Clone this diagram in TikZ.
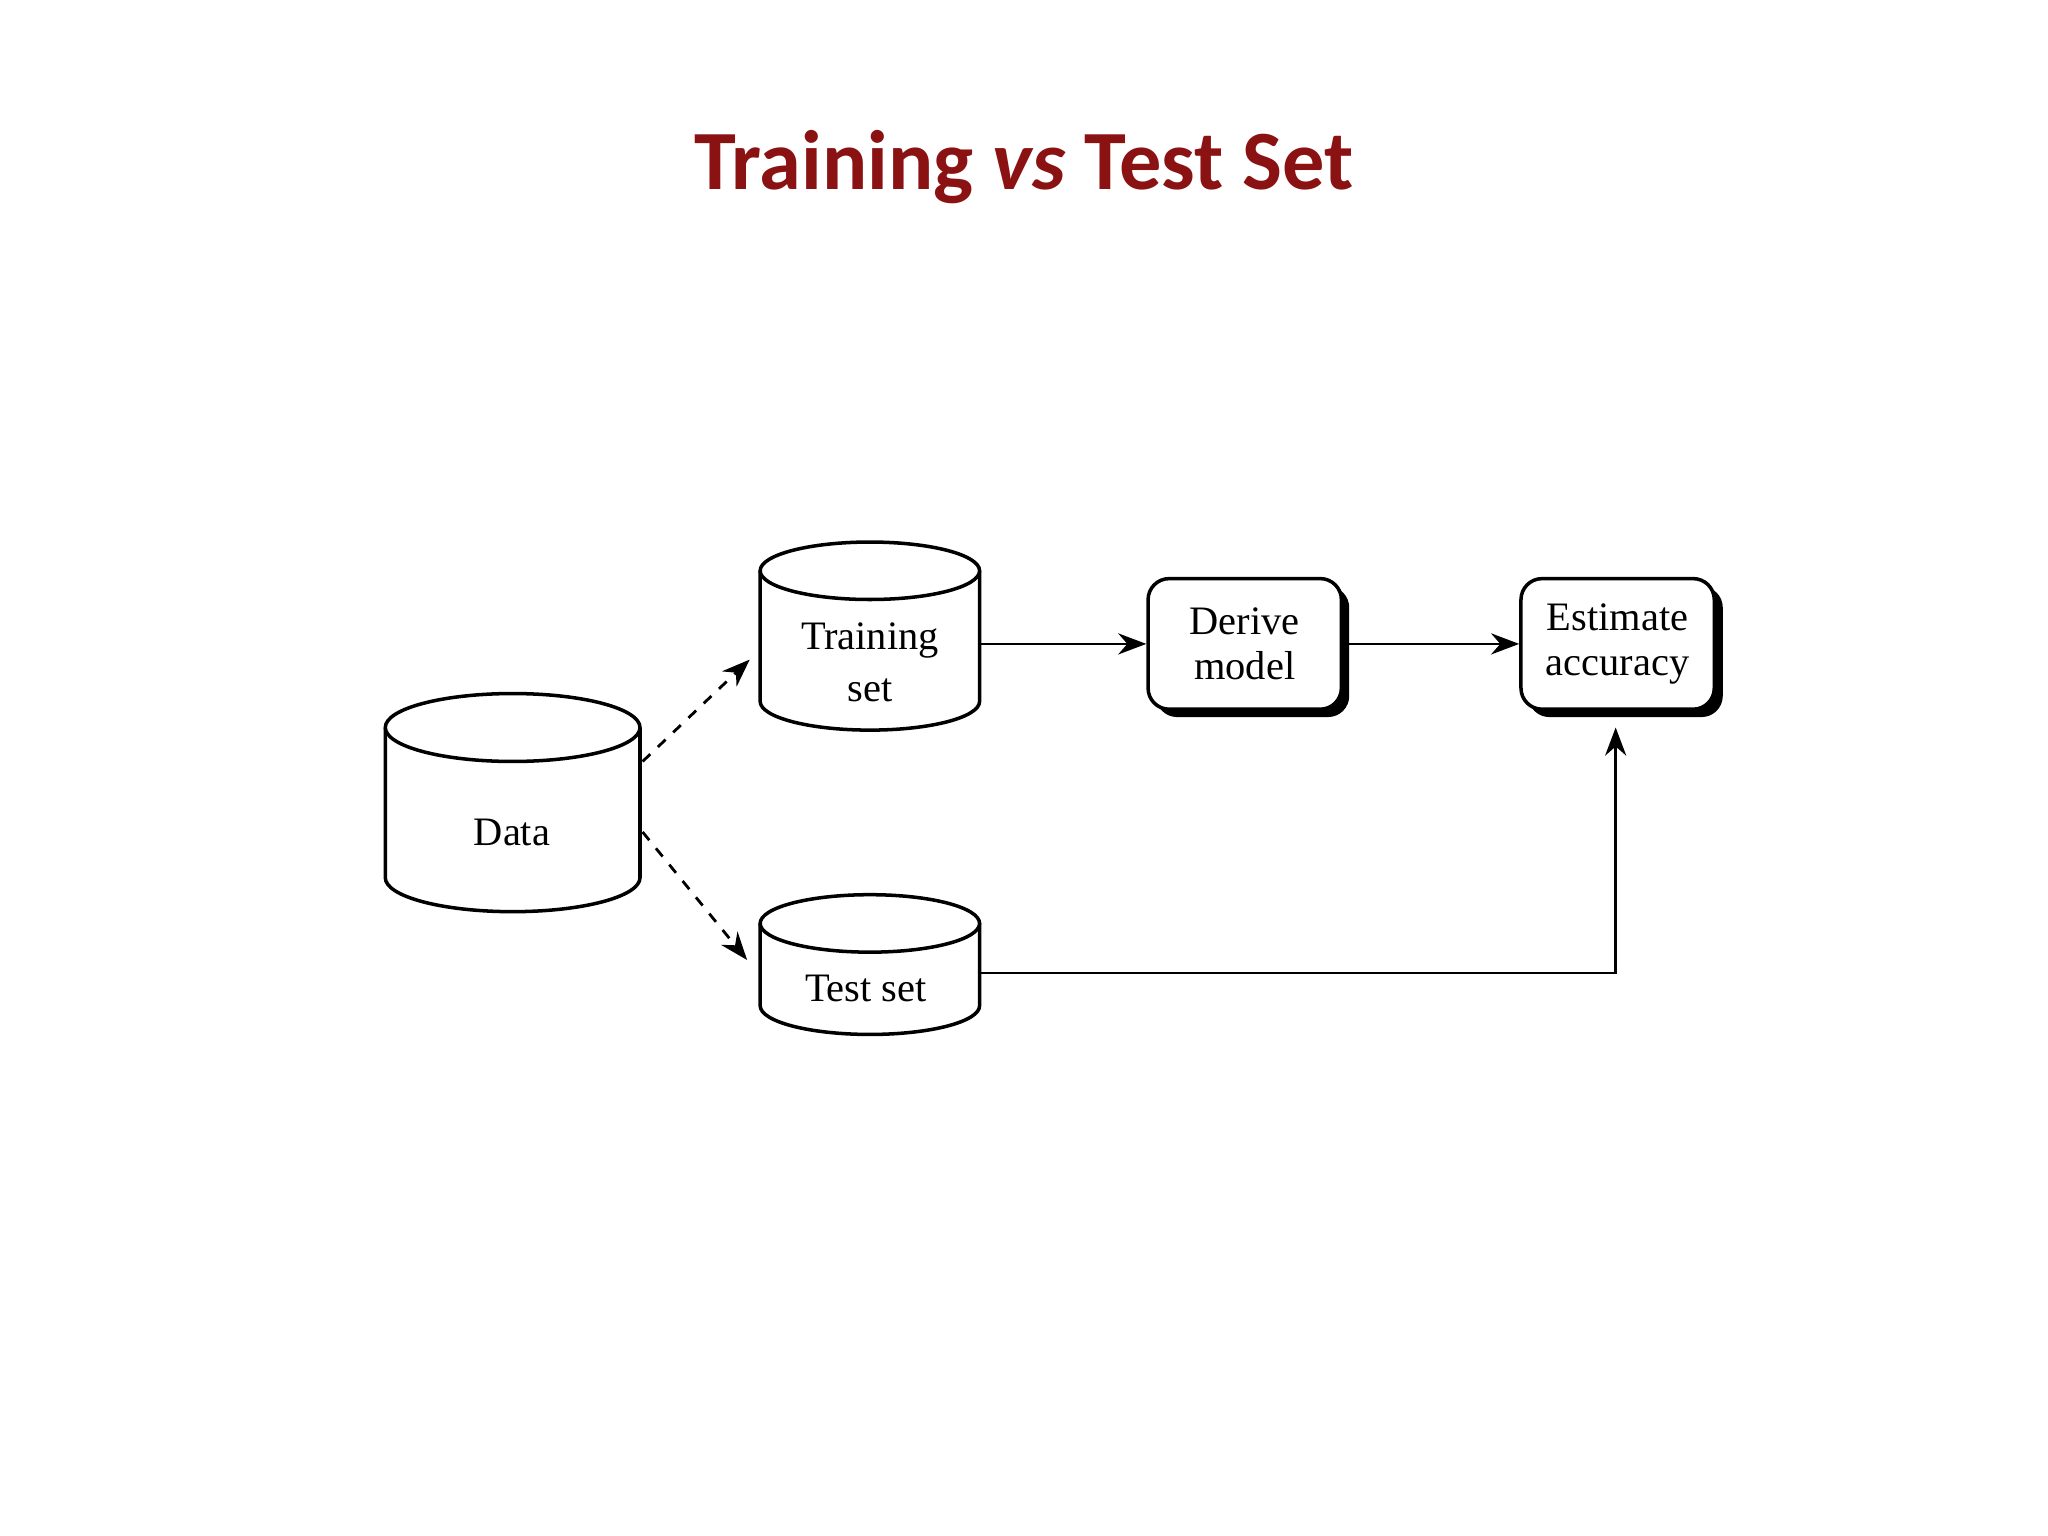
\documentclass[tikz,border=0pt]{standalone}
\usepackage{fontspec}
\setmainfont{Liberation Serif}
\newfontfamily\titlefont{Carlito}
\usetikzlibrary{arrows.meta}
\definecolor{titlered}{HTML}{8B1212}
\tikzset{
  every picture/.style={x=0.01306cm,y=-0.01306cm},
  lbl/.style={font=\fontsize{11.5}{13}\selectfont, align=center, inner sep=0pt},
  cyl/.style={draw, line width=1pt, fill=white},
  proc/.style={draw, line width=1pt, rounded corners=6pt, fill=white, minimum width=148*0.01306cm, minimum height=100*0.01306cm, align=center, font=\fontsize{11.5}{13}\selectfont},
  shadowbox/.style={fill=black, rounded corners=6pt},
  arr/.style={-{Stealth[length=8pt,width=6pt]}, line width=0.8pt},
  darr/.style={arr, dashed}
}
\begin{document}
\begin{tikzpicture}
\useasboundingbox (0,0) rectangle (1568,1176);
\node[font=\titlefont\bfseries\fontsize{24}{28}\selectfont, text=titlered] (title) at (784,128) {Training \textit{vs} Test Set};
% Data cylinder
\draw[cyl] (295,557) -- (295,672) arc[start angle=180,end angle=0,x radius=97.5,y radius=26] -- (490,557);
\draw[cyl] (392.5,557) ellipse [x radius=97.5, y radius=26];
\node[lbl] (data) at (392,637) {Data};
% Training set cylinder
\draw[cyl] (582,437) -- (582,537) arc[start angle=180,end angle=0,x radius=84,y radius=22] -- (750,437);
\draw[cyl] (666,437) ellipse [x radius=84, y radius=22];
\node[lbl] (train) at (666,507) {Training\\[2pt] set};
% Test set cylinder
\draw[cyl] (582,707) -- (582,770) arc[start angle=180,end angle=0,x radius=84,y radius=22] -- (750,707);
\draw[cyl] (666,707) ellipse [x radius=84, y radius=22];
\node[lbl] (test) at (663,757) {Test set};
% process boxes
\fill[shadowbox] (885,449) rectangle (1033,549);
\node[proc] (derive) at (953,493) {Derive\\ model};
\fill[shadowbox] (1170,449) rectangle (1319,549);
\node[proc] (est) at (1238.5,493) {Estimate\\ accuracy};
% anchors
\coordinate (trainR) at (750,493);
\coordinate (testR) at (750,745);
\coordinate (dTop) at (492,583);
\coordinate (dBot) at (492,637);
\coordinate (trainL) at (574,505);
\coordinate (testL) at (572,735);
\coordinate (estB) at (1237,557);
\coordinate (deriveR) at (1033,493);
\coordinate (corner) at (1237,745);
% connectors
\draw[arr] (trainR) -- (derive.west);
\draw[arr] (deriveR) -- (est.west);
\draw[arr] (testR) -- (corner) -- (estB);
\draw[darr] (dTop) -- (trainL);
\draw[darr] (dBot) -- (testL);
\end{tikzpicture}
\end{document}
